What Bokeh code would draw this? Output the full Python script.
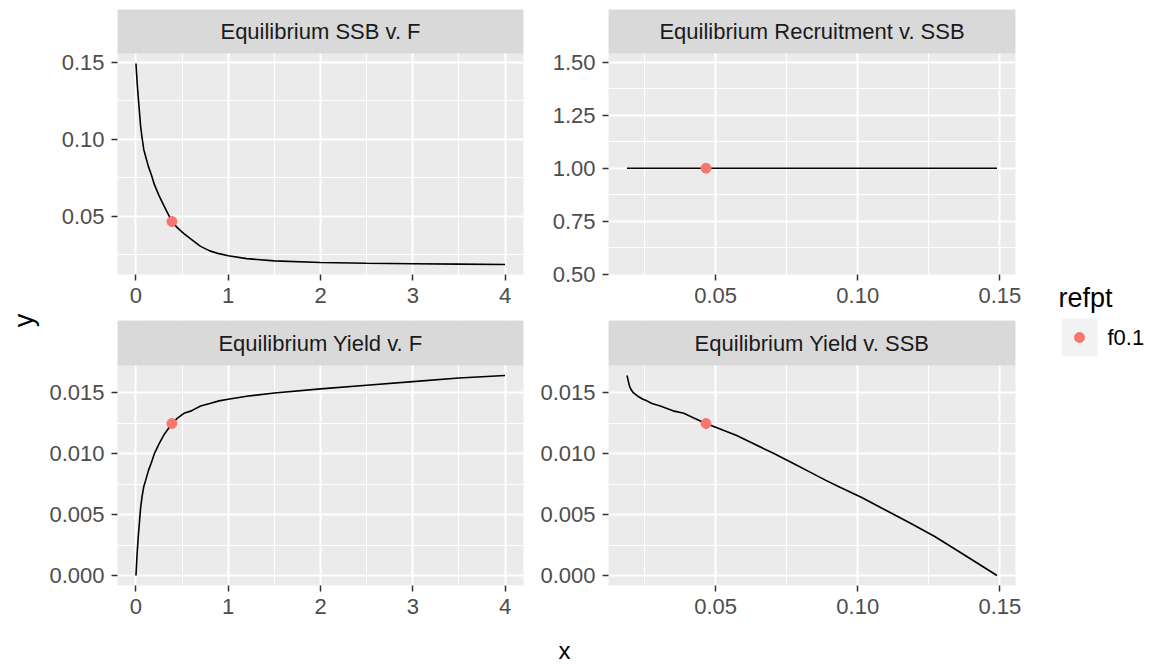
from bokeh.plotting import figure
from bokeh.layouts import row, column
from bokeh.models import Range1d, FixedTicker, NumeralTickFormatter
from bokeh.core.properties import value
from bokeh.embed import file_html
from bokeh.resources import INLINE

# Equilibrium curves over a grid of fishing mortality F
F = [0, 0.012, 0.025, 0.037, 0.05, 0.065, 0.085, 0.105, 0.135, 0.165, 0.2, 0.25, 0.3,
     0.39, 0.45, 0.52, 0.6, 0.7, 0.8, 0.9, 1.0, 1.2, 1.5, 2.0, 2.5, 3.0, 3.5, 4.0]
SSB = [0.149, 0.1374, 0.1271, 0.1184, 0.1087, 0.1014, 0.0932, 0.0888, 0.0822, 0.0772,
       0.0705, 0.0634, 0.0572, 0.0466, 0.0425, 0.0388, 0.0350, 0.0305, 0.0276, 0.0258,
       0.0244, 0.0226, 0.0211, 0.0201, 0.0196, 0.0193, 0.0190, 0.0188]
REC = [1.0, 1.0, 1.0, 1.0, 1.0, 1.0, 1.0, 1.0, 1.0, 1.0, 1.0, 1.0, 1.0, 1.0,
       1.0, 1.0, 1.0, 1.0, 1.0, 1.0, 1.0, 1.0, 1.0, 1.0, 1.0, 1.0, 1.0, 1.0]
YIELD = [0.0, 0.0017, 0.0032, 0.0043, 0.0055, 0.0064, 0.0073, 0.0078, 0.0086, 0.0092,
         0.0100, 0.0108, 0.0115, 0.01246, 0.0129, 0.0133, 0.0135, 0.0139, 0.0141, 0.01432,
         0.01445, 0.0147, 0.01497, 0.0153, 0.0156, 0.0159, 0.0162, 0.0164]

# Reference point
REFPT = ["f0.1"]
REF_F = [0.39]
REF_SSB = [0.0466]
REF_REC = [1.0]
REF_YIELD = [0.01246]

TITLES = ["Equilibrium SSB v. F", "Equilibrium Recruitment v. SSB",
          "Equilibrium Yield v. F", "Equilibrium Yield v. SSB"]
F_TICKS = [0, 1, 2, 3, 4]
SSB_TICKS = [0.05, 0.10, 0.15]
REC_TICKS = [0.50, 0.75, 1.00, 1.25, 1.50]
YIELD_TICKS = [0.000, 0.005, 0.010, 0.015]

FONT = "Liberation Sans"
PANEL_BG = "#EBEBEB"
STRIP_BG = "#D9D9D9"
POINT_COLOR = "#F8766D"

LEFT_W, LEFT_L, LEFT_R = 488, 77, 5
RIGHT_W, RIGHT_L, RIGHT_R = 497, 80, 10
YLAB_W, LEGEND_W = 40, 127
TOP_H = 9 + 44 + 221 + 46
BOTTOM_H = 0 + 45 + 220 + 36
COL_H = TOP_H + BOTTOM_H


def expanded(vals, mult=0.05):
    lo, hi = min(vals), max(vals)
    pad = (hi - lo) * mult
    return lo - pad, hi + pad


def minor_between(ticks):
    step = ticks[1] - ticks[0]
    out = [ticks[0] - step / 2]
    out += [(a + b) / 2 for a, b in zip(ticks[:-1], ticks[1:])]
    out.append(ticks[-1] + step / 2)
    return out


def style_axis(ax, ticks, fmt):
    ax.ticker = FixedTicker(ticks=ticks, minor_ticks=minor_between(ticks))
    ax.formatter = NumeralTickFormatter(format=fmt)
    ax.axis_line_color = None
    ax.major_tick_line_color = "#333333"
    ax.major_tick_line_width = 1.5
    ax.major_tick_out = 6
    ax.major_tick_in = 0
    ax.minor_tick_line_color = None
    ax.major_label_standoff = 7
    ax.major_label_text_font = FONT
    ax.major_label_text_font_size = "22px"
    ax.major_label_text_color = "#4D4D4D"


def panel(title, x, y, rx, ry, xlim, ylim, xticks, yticks, xfmt, yfmt,
          width, left, right, top, strip_h, data_h, bottom):
    """One facet: grey panel with a strip header drawn in the top band of the frame."""
    ylo, yhi = ylim
    strip_span = (yhi - ylo) * strip_h / data_h
    ytop = yhi + strip_span
    p = figure(width=width, height=top + strip_h + data_h + bottom,
               x_range=Range1d(*xlim), y_range=Range1d(ylo, ytop), title=None,
               toolbar_location=None, output_backend="svg",
               min_border_left=left, min_border_right=right,
               min_border_top=top, min_border_bottom=bottom)
    p.background_fill_color = PANEL_BG
    p.border_fill_color = "white"
    p.outline_line_color = None
    style_axis(p.xaxis[0], xticks, xfmt)
    style_axis(p.yaxis[0], yticks, yfmt)
    for g in (p.xgrid[0], p.ygrid[0]):
        g.grid_line_color = "white"
        g.grid_line_width = 2
        g.minor_grid_line_color = "white"
        g.minor_grid_line_width = 1
    p.line(x, y, line_color="black", line_width=1.6)
    p.scatter(rx, ry, size=10, fill_color=POINT_COLOR, line_color=POINT_COLOR)
    # strip header
    p.quad(left=[xlim[0]], right=[xlim[1]], bottom=[yhi], top=[ytop],
           fill_color=STRIP_BG, line_color=None)
    p.text(x=[(xlim[0] + xlim[1]) / 2], y=[yhi + strip_span / 2], text=[title],
           text_align="center", text_baseline="middle", text_font=value(FONT),
           text_font_size="22px", text_color="#1A1A1A")
    return p


f_lim = expanded(F)
ssb_lim = expanded(SSB)
yield_lim = expanded(YIELD)
rec_lim = (0.5, 1.54)

p1 = panel(TITLES[0], F, SSB, REF_F, REF_SSB, f_lim, ssb_lim, F_TICKS, SSB_TICKS, "0", "0.00",
           LEFT_W, LEFT_L, LEFT_R, 9, 44, 221, 46)
p2 = panel(TITLES[1], SSB, REC, REF_SSB, REF_REC, ssb_lim, rec_lim, SSB_TICKS, REC_TICKS,
           "0.00", "0.00", RIGHT_W, RIGHT_L, RIGHT_R, 9, 44, 221, 46)
p3 = panel(TITLES[2], F, YIELD, REF_F, REF_YIELD, f_lim, yield_lim, F_TICKS, YIELD_TICKS,
           "0", "0.000", LEFT_W, LEFT_L, LEFT_R, 0, 45, 220, 36)
p4 = panel(TITLES[3], SSB, YIELD, REF_SSB, REF_YIELD, ssb_lim, yield_lim, SSB_TICKS, YIELD_TICKS,
           "0.00", "0.000", RIGHT_W, RIGHT_L, RIGHT_R, 0, 45, 220, 36)


def blank(width, height, x0, y0=0):
    b = figure(width=width, height=height, x_range=Range1d(x0, x0 + width),
               y_range=Range1d(y0 + height, y0), x_axis_type=None, y_axis_type=None,
               title=None, toolbar_location=None, output_backend="svg", min_border=0)
    b.outline_line_color = None
    b.grid.visible = False
    b.background_fill_color = "white"
    b.border_fill_color = "white"
    return b


# shared y title
ylab = blank(YLAB_W, COL_H, 0)
ylab.text(x=[23], y=[320], text=["y"], angle=1.5708, text_align="center",
          text_baseline="middle", text_font=value(FONT), text_font_size="27px",
          text_color="black")

# legend for the reference point
LEG_X0 = YLAB_W + LEFT_W + RIGHT_W
leg = blank(LEGEND_W, COL_H, LEG_X0)
leg.text(x=[1058], y=[297], text=["refpt"], text_align="left", text_baseline="middle",
         text_font=value(FONT), text_font_size="27px", text_color="black")
leg.quad(left=[1061], right=[1097], top=[318], bottom=[356], fill_color="#F2F2F2",
         line_color=None)
leg.scatter([1079], [337], size=10, fill_color=POINT_COLOR, line_color=POINT_COLOR)
leg.text(x=[1107], y=[337], text=REFPT, text_align="left", text_baseline="middle",
         text_font=value(FONT), text_font_size="22px", text_color="black")

# shared x title
xlab = blank(1152, 664 - COL_H, 0, COL_H)
xlab.text(x=[564], y=[650], text=["x"], text_align="center", text_baseline="middle",
          text_font=value(FONT), text_font_size="24px", text_color="black")

layout = column(
    row(ylab, column(p1, p3), column(p2, p4), leg),
    xlab,
)

open("out.html", "w").write(file_html(layout, INLINE))
